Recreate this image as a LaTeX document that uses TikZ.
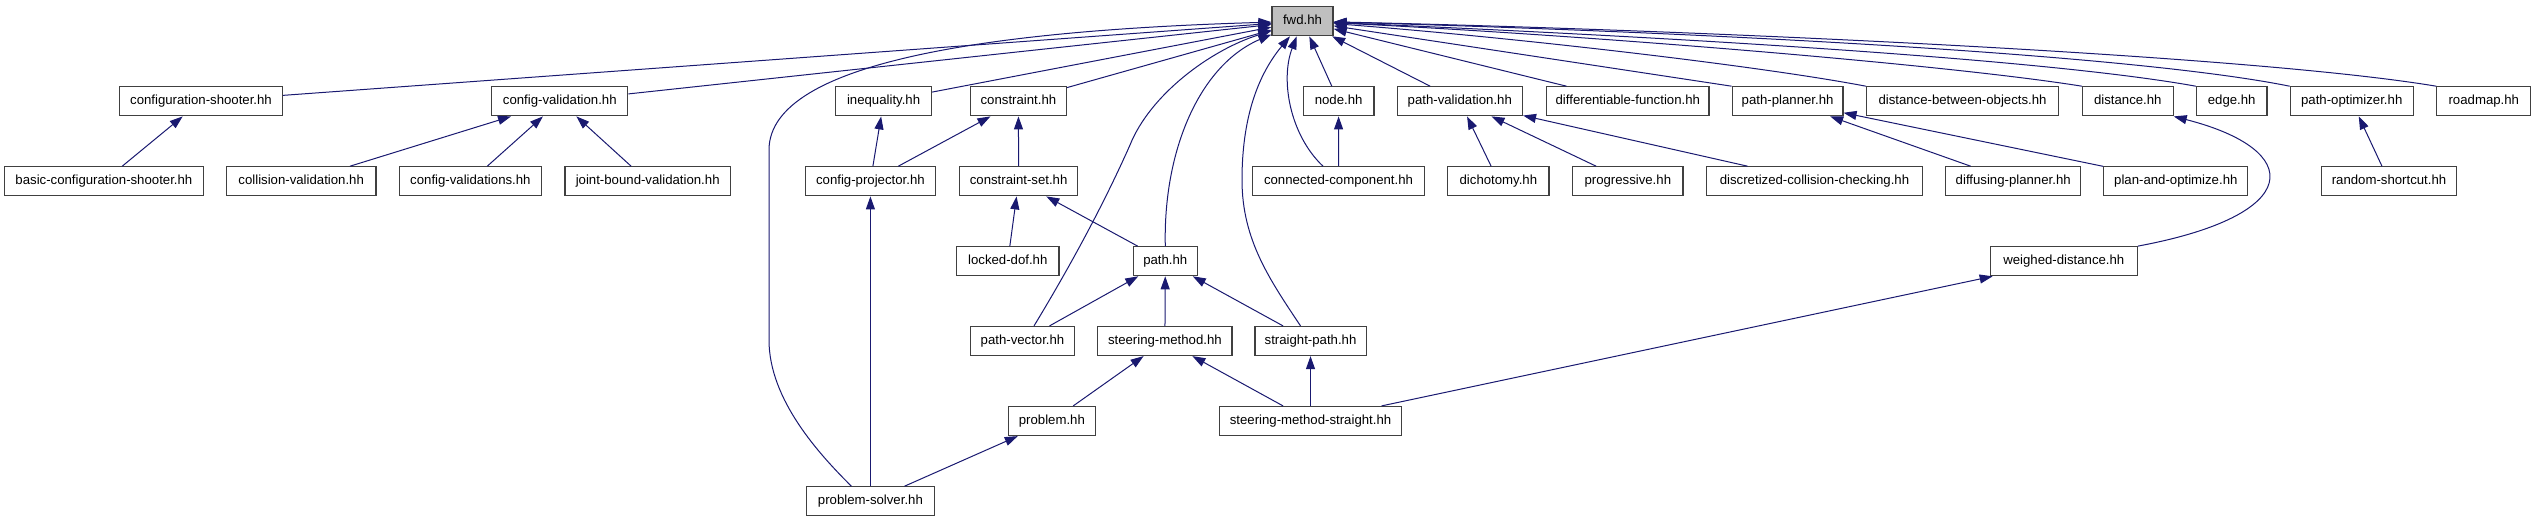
\documentclass[tikz,border=0pt]{standalone}
\usepackage{fontspec}
\setmainfont{Liberation Sans}
\usetikzlibrary{arrows.meta}
\definecolor{edgeblue}{HTML}{191970}
\definecolor{fwdgray}{HTML}{BFBFBF}
\definecolor{boxline}{HTML}{404040}
\begin{document}
\begin{tikzpicture}[x=1pt,y=-1pt,
  box/.style={draw=boxline, line width=1.2pt, fill=white, minimum height=29pt, inner sep=0pt,
    text height=9.5pt, text depth=3.5pt, font=\fontsize{13.2}{15}\selectfont},
  dep/.style={draw=edgeblue, line width=1pt, -{Triangle[length=13pt,width=9pt]}}]
\useasboundingbox (0,0) rectangle (2536,523);
% row 0
\node[box, fill=fwdgray, minimum width=61pt] (fwd) at (1302.5,21.2) {fwd.hh};
% row 1
\node[box, minimum width=163pt] (cfgshooter) at (201,101.3) {configuration-shooter.hh};
\node[box, minimum width=136pt] (cfgval) at (559.8,101.3) {config-validation.hh};
\node[box, minimum width=96pt] (ineq) at (883.6,101.3) {inequality.hh};
\node[box, minimum width=96pt] (constr) at (1018.4,101.3) {constraint.hh};
\node[box, minimum width=70.6pt] (nnode) at (1338.6,101.3) {node.hh};
\node[box, minimum width=125.3pt] (pathval) at (1459.8,101.3) {path-validation.hh};
\node[box, minimum width=162.5pt] (difffun) at (1627.8,101.3) {differentiable-function.hh};
\node[box, minimum width=110.7pt] (pplanner) at (1787.6,101.3) {path-planner.hh};
\node[box, minimum width=192pt] (dbo) at (1962.5,101.3) {distance-between-objects.hh};
\node[box, minimum width=90.6pt] (dist) at (2127.8,101.3) {distance.hh};
\node[box, minimum width=70.6pt] (nedge) at (2231.7,101.3) {edge.hh};
\node[box, minimum width=122.8pt] (popt) at (2351.7,101.3) {path-optimizer.hh};
\node[box, minimum width=94pt] (roadmap) at (2483.8,101.3) {roadmap.hh};
% row 2
\node[box, minimum width=198.8pt] (basicshooter) at (103.9,181.3) {basic-configuration-shooter.hh};
\node[box, minimum width=149.4pt] (collval) at (301.2,181.3) {collision-validation.hh};
\node[box, minimum width=142.4pt] (cfgvals) at (470.4,181.3) {config-validations.hh};
\node[box, minimum width=165.5pt] (jointval) at (647.7,181.3) {joint-bound-validation.hh};
\node[box, minimum width=130.6pt] (cfgproj) at (870.4,181.3) {config-projector.hh};
\node[box, minimum width=117.5pt] (cset) at (1018.6,181.3) {constraint-set.hh};
\node[box, minimum width=172pt] (cc) at (1338.5,181.3) {connected-component.hh};
\node[box, minimum width=101.2pt] (dicho) at (1498.4,181.3) {dichotomy.hh};
\node[box, minimum width=110.2pt] (progr) at (1627.8,181.3) {progressive.hh};
\node[box, minimum width=216pt] (dcc) at (1814.5,181.3) {discretized-collision-checking.hh};
\node[box, minimum width=134.7pt] (diffplan) at (2013.2,181.3) {diffusing-planner.hh};
\node[box, minimum width=144pt] (pao) at (2175.8,181.3) {plan-and-optimize.hh};
\node[box, minimum width=134.7pt] (rshort) at (2389,181.3) {random-shortcut.hh};
% row 3
\node[box, minimum width=102.5pt] (ldof) at (1007.8,261.2) {locked-dof.hh};
\node[box, minimum width=64pt] (npath) at (1165.3,261.2) {path.hh};
\node[box, minimum width=147pt] (wdist) at (2063.8,261.2) {weighed-distance.hh};
% row 4
\node[box, minimum width=104pt] (pvec) at (1022.5,341) {path-vector.hh};
\node[box, minimum width=134.2pt] (smeth) at (1164.9,341) {steering-method.hh};
\node[box, minimum width=111.2pt] (spath) at (1310.5,341) {straight-path.hh};
% row 5
\node[box, minimum width=87pt] (problem) at (1051.9,421) {problem.hh};
\node[box, minimum width=181.4pt] (sms) at (1310.5,421) {steering-method-straight.hh};
% row 6
\node[box, minimum width=127.4pt] (psolver) at (870.4,501.3) {problem-solver.hh};

% edges between lower nodes
\draw[dep] (basicshooter) -- (cfgshooter);
\draw[dep] (collval) -- (cfgval);
\draw[dep] (cfgvals) -- (cfgval);
\draw[dep] (jointval) -- (cfgval);
\draw[dep] (cfgproj) -- (ineq);
\draw[dep] (cfgproj) -- (constr);
\draw[dep] (cset) -- (constr);
\draw[dep] (ldof) -- (cset);
\draw[dep] (npath) -- (cset);
\draw[dep] (psolver) -- (cfgproj);
\draw[dep] (psolver) -- (problem);
\draw[dep] (problem) -- (smeth);
\draw[dep] (sms) -- (smeth);
\draw[dep] (sms) -- (spath);
\draw[dep] (sms) -- (wdist);
\draw[dep] (pvec) -- (npath);
\draw[dep] (smeth) -- (npath);
\draw[dep] (spath) -- (npath);
\draw[dep] (cc) -- (nnode);
\draw[dep] (dicho) -- (pathval);
\draw[dep] (progr) -- (pathval);
\draw[dep] (dcc) -- (pathval);
\draw[dep] (diffplan) -- (pplanner);
\draw[dep] (pao) -- (pplanner);
\draw[dep] (rshort) -- (popt);
\draw[dep] (wdist.north east) .. controls (2305,215) and (2305,150) .. (dist.south east);

% edges into fwd.hh
\draw[dep] (cfgshooter) -- (fwd);
\draw[dep] (cfgval) -- (fwd);
\draw[dep] (ineq) -- (fwd);
\draw[dep] (constr) -- (fwd);
\draw[dep] (nnode) -- (fwd);
\draw[dep] (pathval) -- (fwd);
\draw[dep] (difffun) -- (fwd);
\draw[dep] (pplanner.north west) -- (fwd);
\draw[dep] (dbo.north west) .. controls (1760,66) and (1520,38) .. (fwd);
\draw[dep] (dist.north west) .. controls (1950,65) and (1600,36) .. (fwd);
\draw[dep] (nedge.north west) .. controls (2040,58) and (1650,36) .. (fwd);
\draw[dep] (popt.north west) .. controls (2130,54) and (1700,32) .. (fwd);
\draw[dep] (roadmap.north west) .. controls (2250,55) and (1700,30) .. (fwd);
\draw[dep] ([xshift=-19pt]psolver.north) .. controls (820,455) and (769,400) .. (769,340)
   -- (769,150) .. controls (769,60) and (1000,30) .. (fwd);
\draw[dep] ([xshift=11.5pt]pvec.north) .. controls (1080,250) and (1110,190) .. (1130,145)
   .. controls (1150,95) and (1210,50) .. (fwd);
\draw[dep] (npath.north) .. controls (1163,150) and (1200,65) .. (fwd);
\draw[dep] ([xshift=-10pt]spath.north) .. controls (1270,280) and (1242,240) .. (1242,180)
   .. controls (1242,110) and (1262,70) .. (fwd);
\draw[dep] ([xshift=-15.5pt]cc.north) .. controls (1290,135) and (1280,80) .. (fwd);
\end{tikzpicture}
\end{document}
